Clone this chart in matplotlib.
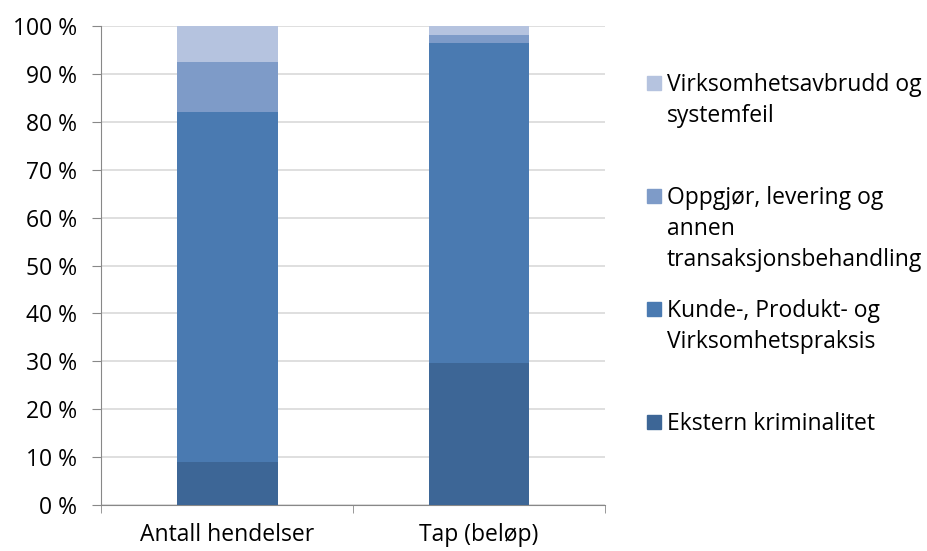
import matplotlib.pyplot as plt
from matplotlib.patches import Rectangle
import numpy as np

plt.rcParams['font.family'] = ['Open Sans', 'DejaVu Sans']

categories = ["Antall hendelser", "Tap (beløp)"]
series_names = ["Ekstern kriminalitet",
                "Kunde-, Produkt- og\nVirksomhetspraksis",
                "Oppgjør, levering og\nannen\ntransaksjonsbehandling",
                "Virksomhetsavbrudd og\nsystemfeil"]
ekstern = [9.0, 29.7]
kunde = [73.1, 66.8]
oppgjor = [10.4, 1.6]
avbrudd = [7.5, 1.9]
colors = ["#3D6696", "#4A7AB1", "#7E9BC8", "#B5C3DF"]

fs = 16.5
fig = plt.figure(figsize=(9.28, 5.51), dpi=100)
ax = fig.add_axes([0.109, 0.0835, 0.543, 0.869])

x = np.arange(len(categories))
bottom = np.zeros(len(categories))
for vals, col in zip([ekstern, kunde, oppgjor, avbrudd], colors):
    ax.bar(x, vals, width=0.4, bottom=bottom, color=col, zorder=3)
    bottom += np.array(vals)

ax.set_xlim(-0.5, 1.5)
ax.set_ylim(0, 100)
ax.set_yticks(np.arange(0, 101, 10))
ax.set_yticklabels([f"{v} %" for v in range(0, 101, 10)], fontsize=fs)
ax.set_xticks(x)
ax.set_xticklabels(categories, fontsize=fs)
ax.set_xticks([-0.5, 0.5, 1.5], minor=True)
ax.tick_params(axis='x', which='major', length=0, pad=13)
ax.tick_params(axis='x', which='minor', length=6, color="#888888")
ax.tick_params(axis='y', length=6.5, color="#888888", pad=11)
ax.grid(axis='y', color="#d9d9d9", linewidth=1.2, zorder=0)
for s in ["top", "right"]:
    ax.spines[s].set_visible(False)
ax.spines["left"].set_color("#888888")
ax.spines["bottom"].set_color("#888888")

# legend drawn by hand to mimic the layout (pixel positions, top-down)
W, H = 928, 551
first_baseline = [430, 317, 204, 91]
line_gap = 31
for name, col, yb in zip(series_names, colors, first_baseline):
    fig.add_artist(Rectangle((647 / W, 1 - (yb - 1) / H), 14 / W, 14 / H,
                             transform=fig.transFigure, color=col))
    for i, line in enumerate(name.split("\n")):
        fig.text(667 / W, 1 - (yb + i * line_gap) / H, line, fontsize=fs,
                 va='baseline')

fig.savefig("out.png")
